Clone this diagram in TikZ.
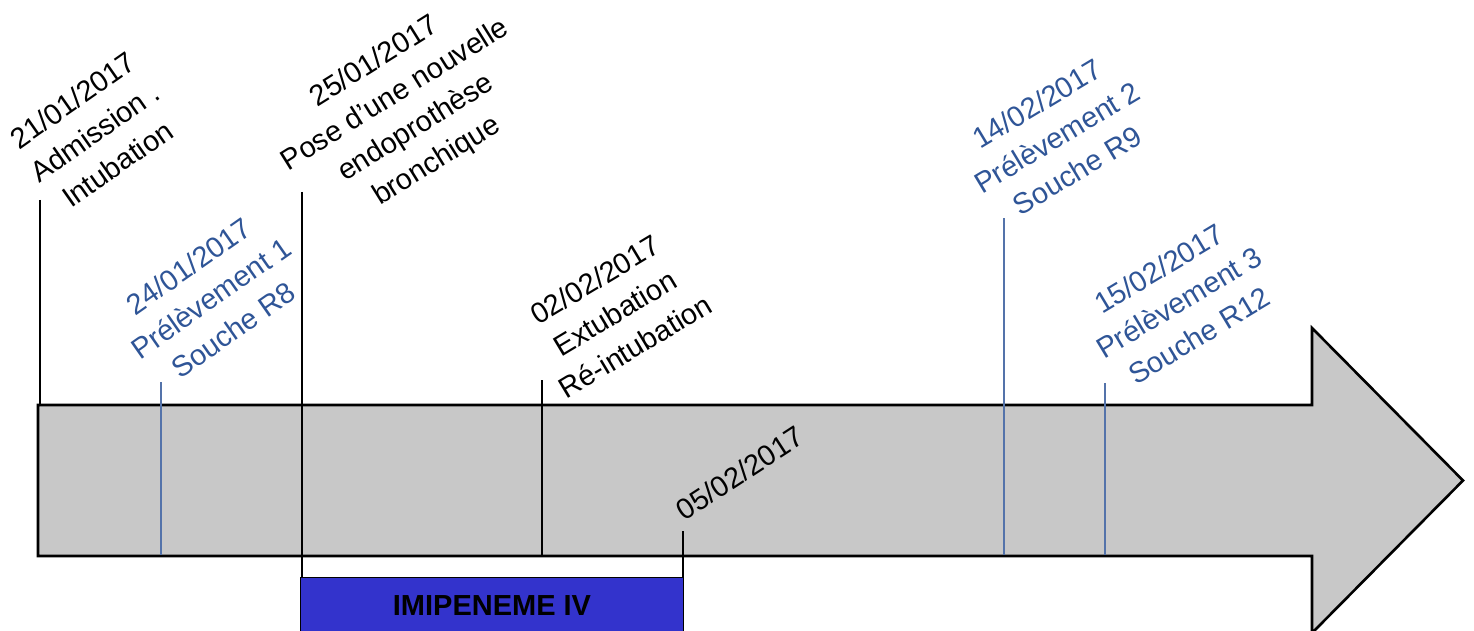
\documentclass[tikz,border=0pt]{standalone}
\usepackage{fontspec}
\setmainfont{Liberation Sans}
\definecolor{labelblue}{RGB}{47,85,151}
\definecolor{tickblue}{RGB}{84,115,170}
\definecolor{bandgray}{RGB}{200,200,200}
\definecolor{drugblue}{RGB}{51,51,204}
\begin{document}
\begin{tikzpicture}[x=1pt,y=-1pt,
  lbl/.style={align=center, rotate=35, inner sep=0pt, font=\fontsize{29}{39}\selectfont},
  samplelbl/.style={lbl, text=labelblue},
  eventtick/.style={draw=black, line width=1.2pt},
  sampletick/.style={draw=tickblue, line width=1.5pt},
  band/.style={draw=black, fill=bandgray, line width=2.6pt, line join=miter},
  drugbox/.style={draw=black, fill=drugblue, line width=1pt}]
\useasboundingbox (0,0) rectangle (1474,631);

% time arrow
\draw[band] (38,405) -- (1312,405) -- (1312,328) -- (1463,480.5)
  -- (1312,633) -- (1312,556) -- (38,556) -- cycle;

% treatment bar
\node[drugbox, minimum width=383pt, minimum height=56pt, anchor=north west,
  inner sep=0pt, font=\fontsize{29}{34}\selectfont\bfseries] (imi) at (300,577) {IMIPENEME IV};

% event labels
\node[lbl] (e21) at (95,132) {21/01/2017\\Admission .\\Intubation};
\node[lbl, rotate=-3] (e25) at (406,112) {25/01/2017\\Pose d’une nouvelle\\endoprothèse\\bronchique};
\node[lbl, rotate=-4] (e02) at (615,313) {02/02/2017\\Extubation\\Ré-intubation};
\node[lbl, rotate=-2] (e05) at (740,473) {05/02/2017};

% sample labels
\node[samplelbl] (s24) at (211,298) {24/01/2017\\Prélèvement 1\\Souche R8};
\node[samplelbl, rotate=-4] (s14) at (1057,137) {14/02/2017\\Prélèvement 2\\Souche R9};
\node[samplelbl, rotate=-4] (s15) at (1179,302) {15/02/2017\\Prélèvement 3\\Souche R12};

% tick lines
\coordinate (t21a) at (40,200);   \coordinate (t21b) at (40,405);
\coordinate (t25a) at (302,192);  \coordinate (t25b) at (302,577);
\coordinate (t02a) at (542,380);  \coordinate (t02b) at (542,557);
\coordinate (t05a) at (683,531);  \coordinate (t05b) at (683,577);
\coordinate (t24a) at (161,382);  \coordinate (t24b) at (161,555);
\coordinate (t14a) at (1004,218); \coordinate (t14b) at (1004,555);
\coordinate (t15a) at (1105,383); \coordinate (t15b) at (1105,555);

\draw[eventtick] (t21a) -- (t21b);
\draw[eventtick] (t25a) -- (t25b);
\draw[eventtick] (t02a) -- (t02b);
\draw[eventtick] (t05a) -- (t05b);
\draw[sampletick] (t24a) -- (t24b);
\draw[sampletick] (t14a) -- (t14b);
\draw[sampletick] (t15a) -- (t15b);
\end{tikzpicture}
\end{document}
